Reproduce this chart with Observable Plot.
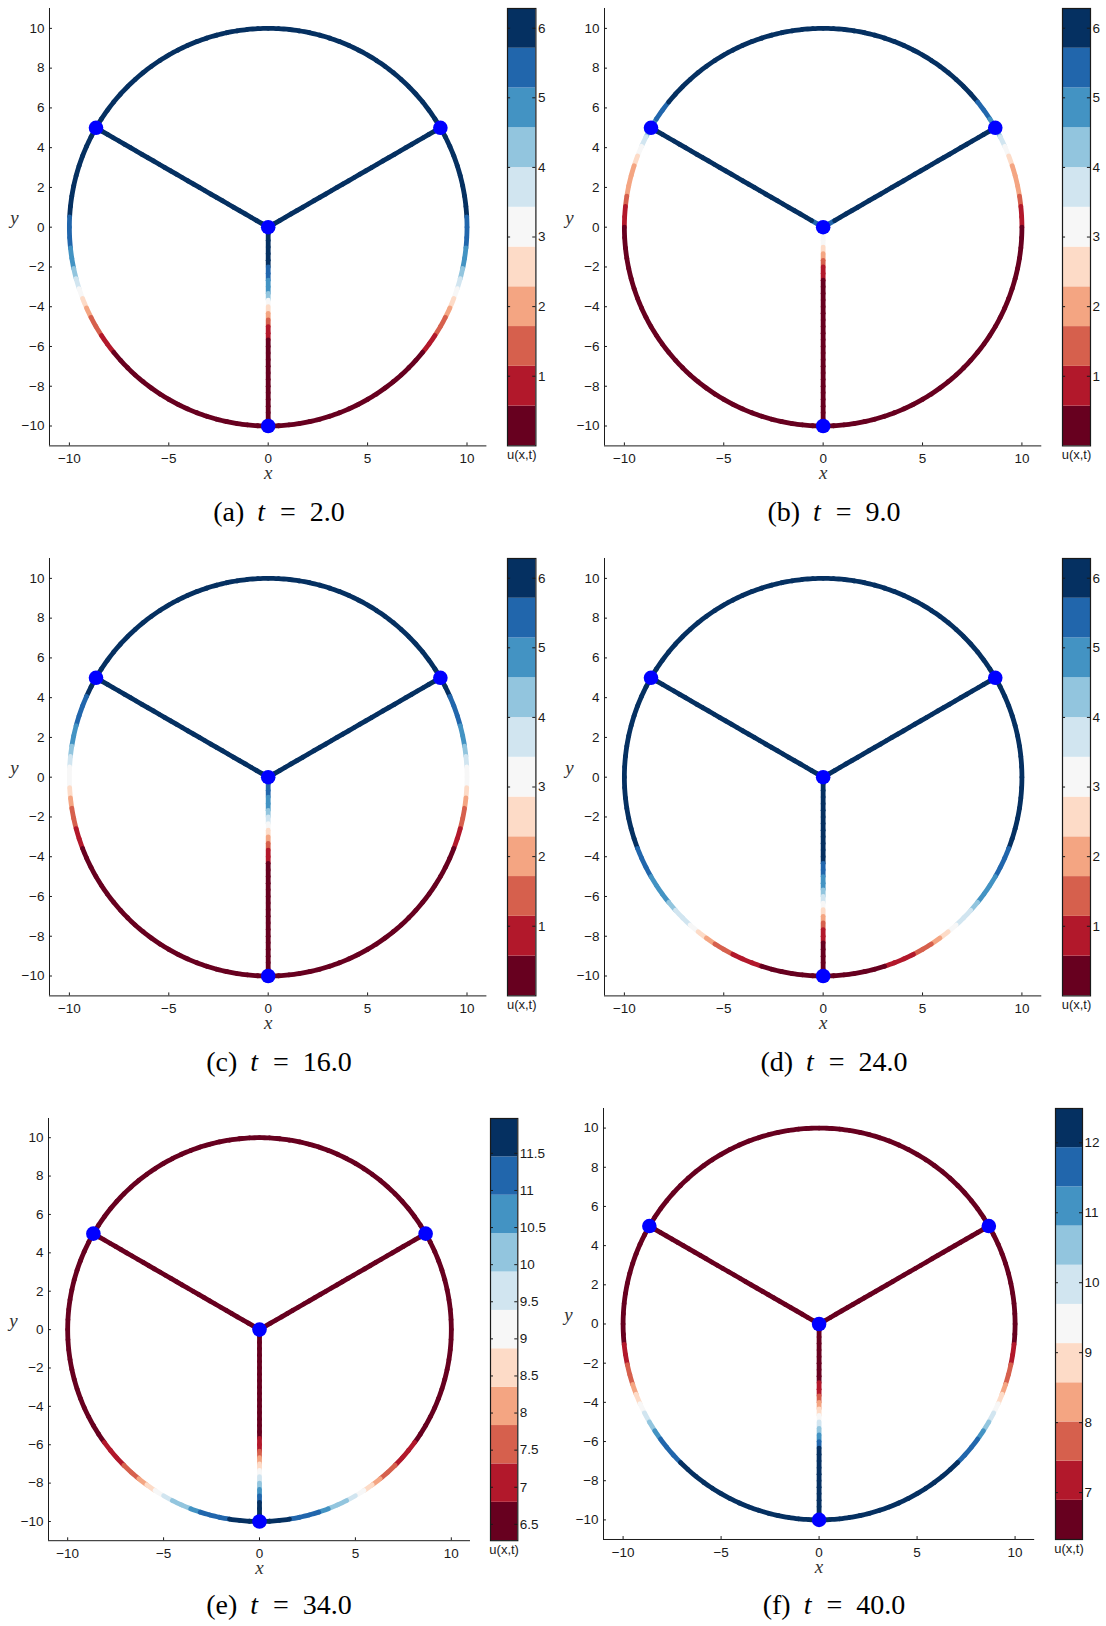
<!DOCTYPE html>
<html>
<head>
<meta charset="utf-8">
<script src="https://cdn.jsdelivr.net/npm/d3@7"></script>
<script src="https://cdn.jsdelivr.net/npm/@observablehq/plot@0.6"></script>
<style>
html, body { margin: 0; padding: 0; background: #fff; }
#root { position: relative; width: 1106px; height: 1626px; overflow: hidden; background: #fff; }
.fig { position: absolute; }
.cap { position: absolute; font-family: "Liberation Serif", "Times New Roman", serif; font-size: 28px; line-height: 28px; white-space: nowrap; transform: translateX(-50%); color: #000; }
.cap i { font-style: italic; }
</style>
</head>
<body>
<div id="root"></div>
<script>
// ---------- data ----------
const panelLabels = ["(a)", "(b)", "(c)", "(d)", "(e)", "(f)"];
const timeLabels = ["2.0", "9.0", "16.0", "24.0", "34.0", "40.0"];
const colorDomains = [[0, 6.283], [0, 6.283], [0, 6.283], [0, 6.283], [6.28, 11.97], [6.33, 12.49]];
const colorbarTicks = [
  [1, 2, 3, 4, 5, 6], [1, 2, 3, 4, 5, 6], [1, 2, 3, 4, 5, 6], [1, 2, 3, 4, 5, 6],
  [6.5, 7, 7.5, 8, 8.5, 9, 9.5, 10, 10.5, 11, 11.5],
  [7, 8, 9, 10, 11, 12]
];
const xTicks = [-10, -5, 0, 5, 10];
const yTicks = [-10, -8, -6, -4, -2, 0, 2, 4, 6, 8, 10];
const rdbu11 = ["#67001f", "#b2182b", "#d6604d", "#f4a582", "#fddbc7", "#f7f7f7", "#d1e5f0", "#92c5de", "#4393c3", "#2166ac", "#053061"];
const circleRadius = 10;
const nodes = [
  {id: "C", x: 0, y: 0},
  {id: "L", x: -8.66, y: 5},
  {id: "R", x: 8.66, y: 5},
  {id: "B", x: 0, y: -10}
];

// u(x,t) read along each edge (top arc: L->R, side arcs: upper node -> B, spokes: C -> node)
const topArc_a = [5.95,5.98,6.0,6.03,6.06,6.08,6.1,6.12,6.14,6.16,6.18,6.2,6.21,6.22,6.23,6.24,6.25,6.25,6.26,6.26,6.26,6.26,6.25,6.25,6.24,6.23,6.22,6.21,6.2,6.18,6.16,6.14,6.12,6.1,6.08,6.06,6.03,6.0,5.98,5.95];
const sideArc_a = [6.05,6.0,5.98,5.96,5.94,5.92,5.9,5.86,5.8,5.6,5.4,5.2,4.9,4.6,4.2,3.7,3.1,2.6,2.0,1.6,1.2,0.9,0.6,0.45,0.35,0.3,0.25,0.2,0.17,0.14,0.12,0.1,0.08,0.06,0.05,0.04,0.03,0.02,0.02,0.01];
const spokeUp_a = [6.2,6.2,6.19,6.18,6.17,6.16,6.15,6.14,6.13,6.12,6.11,6.1,6.09,6.08,6.07,6.06,6.05,6.04,6.03,6.02,6.01,6.0,5.99,5.98,5.97,5.96,5.95,5.94,5.93,5.92];
const spokeDown_a = [6.2,6.1,6.0,6.0,5.9,5.8,5.5,5.3,4.9,4.6,4.2,3.3,2.6,2.0,1.4,0.9,0.7,0.5,0.4,0.35,0.3,0.25,0.2,0.17,0.14,0.11,0.08,0.05,0.03,0.01];

const topArc_b = [4.9,5.4,5.6,5.8,5.9,6.0,6.05,6.1,6.12,6.14,6.16,6.18,6.2,6.21,6.22,6.23,6.24,6.25,6.25,6.25,6.25,6.25,6.25,6.24,6.23,6.22,6.21,6.2,6.18,6.16,6.14,6.12,6.1,6.05,6.0,5.9,5.8,5.6,5.4,4.9];
const sideArc_b = [4.4,3.9,3.2,2.6,2.2,2.0,1.8,1.3,0.9,0.65,0.5,0.45,0.42,0.4,0.38,0.36,0.34,0.32,0.3,0.28,0.26,0.24,0.22,0.2,0.18,0.16,0.14,0.12,0.1,0.09,0.08,0.07,0.06,0.05,0.04,0.03,0.03,0.02,0.02,0.01];
const spokeUp_b = [5.0,5.5,5.8,5.9,6.0,6.05,6.1,6.12,6.14,6.16,6.18,6.2,6.2,6.21,6.21,6.22,6.22,6.22,6.23,6.23,6.23,6.23,6.23,6.22,6.22,6.21,6.2,6.18,6.15,6.1];
const spokeDown_b = [3.9,3.4,3.0,2.6,2.1,1.5,1.0,0.7,0.5,0.45,0.42,0.4,0.38,0.36,0.34,0.32,0.3,0.28,0.26,0.24,0.22,0.2,0.18,0.16,0.14,0.12,0.1,0.08,0.05,0.02];

const topArc_c = [5.9,5.95,6.0,6.03,6.06,6.08,6.1,6.12,6.14,6.16,6.18,6.2,6.21,6.22,6.23,6.24,6.25,6.25,6.26,6.26,6.26,6.26,6.25,6.25,6.24,6.23,6.22,6.21,6.2,6.18,6.16,6.14,6.12,6.1,6.08,6.06,6.03,6.0,5.95,5.9];
const sideArc_c = [6.0,5.8,5.6,5.5,5.3,5.0,4.8,4.4,3.8,3.4,3.0,2.5,2.0,1.5,1.2,0.9,0.6,0.45,0.4,0.36,0.33,0.3,0.27,0.24,0.22,0.2,0.18,0.16,0.14,0.12,0.1,0.09,0.08,0.07,0.06,0.05,0.04,0.03,0.02,0.01];
const spokeUp_c = [6.0,6.05,6.1,6.12,6.14,6.16,6.18,6.2,6.2,6.21,6.21,6.22,6.22,6.22,6.23,6.23,6.23,6.23,6.22,6.22,6.21,6.2,6.19,6.17,6.15,6.12,6.09,6.05,6.0,5.95];
const spokeDown_c = [5.9,5.6,5.3,5.0,4.6,4.3,3.8,3.2,2.6,2.0,1.4,1.0,0.7,0.5,0.45,0.4,0.36,0.33,0.3,0.27,0.24,0.21,0.18,0.15,0.12,0.1,0.08,0.06,0.04,0.02];

const topArc_d = [6.1,6.12,6.14,6.16,6.18,6.2,6.21,6.22,6.23,6.24,6.25,6.25,6.26,6.26,6.27,6.27,6.27,6.28,6.28,6.28,6.28,6.28,6.28,6.27,6.27,6.27,6.26,6.26,6.25,6.25,6.24,6.23,6.22,6.21,6.2,6.18,6.16,6.14,6.12,6.1];
const sideArc_d = [6.2,6.2,6.19,6.18,6.17,6.16,6.15,6.13,6.11,6.09,6.07,6.05,6.02,5.99,5.95,5.9,5.8,5.6,5.4,5.2,5.0,4.8,4.6,4.3,3.9,3.5,3.1,2.6,2.1,1.7,1.3,1.0,0.8,0.6,0.5,0.4,0.35,0.3,0.28,0.25];
const spokeUp_d = [6.2,6.2,6.21,6.21,6.22,6.22,6.22,6.23,6.23,6.23,6.23,6.23,6.23,6.23,6.22,6.22,6.22,6.21,6.21,6.2,6.2,6.19,6.19,6.18,6.17,6.16,6.15,6.14,6.13,6.12];
const spokeDown_d = [6.2,6.2,6.15,6.1,6.1,6.05,6.0,6.0,5.95,5.9,5.85,5.8,5.75,5.6,5.4,5.0,4.7,4.3,3.9,3.3,2.6,2.0,1.4,1.0,0.8,0.5,0.4,0.35,0.3,0.28];

const topArc_e = [6.42,6.41,6.4,6.39,6.38,6.37,6.36,6.35,6.34,6.33,6.32,6.32,6.31,6.31,6.3,6.3,6.3,6.29,6.29,6.29,6.29,6.29,6.29,6.3,6.3,6.3,6.31,6.31,6.32,6.32,6.33,6.34,6.35,6.36,6.37,6.38,6.39,6.4,6.41,6.42];
const sideArc_e = [6.42,6.43,6.44,6.45,6.46,6.47,6.48,6.49,6.5,6.51,6.52,6.54,6.56,6.58,6.6,6.62,6.64,6.66,6.68,6.71,6.74,6.78,6.85,7.0,7.2,7.5,7.7,8.1,8.6,9.1,9.6,10.1,10.4,10.7,11.0,11.2,11.4,11.6,11.75,11.85];
const spokeUp_e = [6.4,6.4,6.4,6.41,6.41,6.41,6.41,6.42,6.42,6.42,6.42,6.42,6.42,6.42,6.42,6.42,6.42,6.42,6.42,6.42,6.42,6.42,6.42,6.42,6.42,6.42,6.42,6.42,6.42,6.42];
const spokeDown_e = [6.42,6.43,6.44,6.45,6.46,6.47,6.48,6.5,6.52,6.54,6.56,6.58,6.6,6.63,6.66,6.7,6.75,6.9,7.1,7.4,7.9,8.5,9.1,9.7,10.2,10.7,11.2,11.6,11.8,11.9];

const topArc_f = [6.4,6.39,6.39,6.38,6.38,6.37,6.37,6.36,6.36,6.36,6.35,6.35,6.35,6.35,6.35,6.34,6.34,6.34,6.34,6.34,6.34,6.34,6.34,6.34,6.34,6.35,6.35,6.35,6.35,6.35,6.36,6.36,6.36,6.37,6.37,6.38,6.38,6.39,6.39,6.4];
const sideArc_f = [6.4,6.4,6.42,6.44,6.46,6.48,6.5,6.53,6.57,6.62,6.7,6.8,7.0,7.3,7.6,7.9,8.3,8.8,9.4,9.9,10.5,11.0,11.5,11.7,11.9,12.0,12.05,12.1,12.15,12.2,12.25,12.3,12.33,12.36,12.39,12.41,12.43,12.45,12.46,12.47];
const spokeUp_f = [6.4,6.4,6.4,6.4,6.4,6.4,6.4,6.4,6.4,6.4,6.4,6.4,6.4,6.4,6.4,6.4,6.4,6.4,6.4,6.4,6.4,6.4,6.4,6.4,6.4,6.4,6.4,6.4,6.4,6.4];
const spokeDown_f = [6.4,6.42,6.45,6.48,6.52,6.56,6.6,6.7,6.8,7.1,7.4,7.8,8.4,9.0,9.5,10.1,10.6,11.1,11.6,12.0,12.1,12.15,12.2,12.25,12.3,12.35,12.4,12.43,12.46,12.48];

const panelValues = [
  {top: topArc_a, side: sideArc_a, up: spokeUp_a, down: spokeDown_a},
  {top: topArc_b, side: sideArc_b, up: spokeUp_b, down: spokeDown_b},
  {top: topArc_c, side: sideArc_c, up: spokeUp_c, down: spokeDown_c},
  {top: topArc_d, side: sideArc_d, up: spokeUp_d, down: spokeDown_d},
  {top: topArc_e, side: sideArc_e, up: spokeUp_e, down: spokeDown_e},
  {top: topArc_f, side: sideArc_f, up: spokeUp_f, down: spokeDown_f}
];

// ---------- layout (page pixels) ----------
const layout = [
  {px0: 49.3, px1: 486.7, py0: 8.3, py1: 445.7, cb0: 507.3, cb1: 535.7, capX: 279, capY: 521},
  {px0: 604.0, px1: 1041.3, py0: 8.3, py1: 445.7, cb0: 1062, cb1: 1090, capX: 834, capY: 521},
  {px0: 49.3, px1: 486.7, py0: 558.3, py1: 995.7, cb0: 507.3, cb1: 535.7, capX: 279, capY: 1071},
  {px0: 604.0, px1: 1041.3, py0: 558.3, py1: 995.7, cb0: 1062, cb1: 1090, capX: 834, capY: 1071},
  {px0: 48.3, px1: 470.3, py0: 1117.5, py1: 1539.7, cb0: 490, cb1: 517.3, capX: 279, capY: 1614.5},
  {px0: 603.4, px1: 1034.6, py0: 1108, py1: 1539, cb0: 1054.7, cb1: 1081.7, capX: 834, capY: 1614.5}
];

const deg = Math.PI / 180;
const byId = Object.fromEntries(nodes.map(n => [n.id, n]));
const ang = n => Math.atan2(n.y, n.x) / deg;
const fmt = d => (d < 0 ? "\u2212" + Math.abs(d) : String(d));
const tickFont = 13.5;

function edgePoints(vals, id, geom) {
  const N = vals.length, out = [];
  const M = geom.arc ? 4 : 1;
  for (let i = 0; i < N; i++) {
    for (let k = 0; k <= M; k++) {
      const s = (i + k / M) / N;
      let x, y;
      if (geom.arc) {
        const t = (geom.a0 + (geom.a1 - geom.a0) * s) * deg;
        x = circleRadius * Math.cos(t); y = circleRadius * Math.sin(t);
      } else {
        x = geom.p.x + (geom.q.x - geom.p.x) * s;
        y = geom.p.y + (geom.q.y - geom.p.y) * s;
      }
      out.push({x, y, seg: id + "-" + i, u: vals[i]});
    }
  }
  return out;
}

function panelPoints(v) {
  const C = byId.C, L = byId.L, R = byId.R, B = byId.B;
  return [
    ...edgePoints(v.top, "top", {arc: true, a0: ang(L), a1: ang(R)}),
    ...edgePoints(v.side, "left", {arc: true, a0: ang(L), a1: ang(B) + 360}),
    ...edgePoints(v.side, "right", {arc: true, a0: ang(R), a1: ang(B)}),
    ...edgePoints(v.up, "cl", {p: C, q: L}),
    ...edgePoints(v.up, "cr", {p: C, q: R}),
    ...edgePoints(v.down, "cb", {p: C, q: B})
  ];
}

const root = document.getElementById("root");
const axisColor = "#1a1a1a";
const sansFont = "'Liberation Sans', Arial, Helvetica, sans-serif";
const serifFont = "'Liberation Serif', 'Times New Roman', serif";

panelLabels.forEach((lab, p) => {
  const L = layout[p];
  const [lo, hi] = colorDomains[p];
  const thresholds = d3.range(1, 11).map(i => lo + (hi - lo) * i / 11);
  const colorOpt = {type: "threshold", domain: thresholds, range: rdbu11};
  const mL = 49, mT = 8, mR = 6, mB = 42;

  const main = Plot.plot({
    width: L.px1 - L.px0 + mL + mR,
    height: L.py1 - L.py0 + mT + mB,
    marginLeft: mL, marginRight: mR, marginTop: mT, marginBottom: mB,
    style: {background: "transparent", fontFamily: sansFont, color: axisColor, overflow: "visible"},
    x: {domain: [-11, 11]},
    y: {domain: [-11, 11]},
    color: colorOpt,
    marks: [
      Plot.axisX(xTicks, {tickSize: 0, tickPadding: 8, label: null, tickFormat: fmt, fontSize: tickFont, fontFamily: sansFont}),
      Plot.axisY(yTicks, {tickSize: 0, tickPadding: 5, label: null, tickFormat: fmt, fontSize: tickFont, fontFamily: sansFont}),
      Plot.ruleX([-11], {stroke: axisColor, strokeWidth: 1}),
      Plot.ruleY([-11], {stroke: axisColor, strokeWidth: 1}),
      Plot.ruleX(xTicks, {x: d => d, y1: -11, y2: -10.85, stroke: axisColor}),
      Plot.ruleY(yTicks, {y: d => d, x1: -11, x2: -10.85, stroke: axisColor}),
      Plot.line(panelPoints(panelValues[p]), {x: "x", y: "y", z: "seg", stroke: "u", strokeWidth: 4.8, strokeLinecap: "round", strokeLinejoin: "round"}),
      Plot.dot(nodes, {x: "x", y: "y", r: 7.3, fill: "#0000ff", stroke: "none"}),
      Plot.text(["x"], {x: 0, y: -11, dy: 27, text: d => d, fontFamily: serifFont, fontStyle: "italic", fontSize: 19, fill: "#333"}),
      Plot.text(["y"], {x: -11, y: 0, dx: -35, dy: -9, text: d => d, fontFamily: serifFont, fontStyle: "italic", fontSize: 19, fill: "#333"})
    ]
  });
  main.classList.add("fig");
  main.style.left = (L.px0 - mL) + "px";
  main.style.top = (L.py0 - mT) + "px";
  root.appendChild(main);

  const bands = d3.range(11).map(i => ({y1: lo + (hi - lo) * i / 11, y2: lo + (hi - lo) * (i + 1) / 11, mid: lo + (hi - lo) * (i + 0.5) / 11}));
  const cbL = 1, cbR = 34, cbB = 30;
  const cb = Plot.plot({
    width: L.cb1 - L.cb0 + cbL + cbR,
    height: L.py1 - L.py0 + mT + cbB,
    marginLeft: cbL, marginRight: cbR, marginTop: mT, marginBottom: cbB,
    style: {background: "transparent", fontFamily: sansFont, color: axisColor, overflow: "visible"},
    x: {domain: [0, 1], axis: null},
    y: {domain: [lo, hi]},
    color: colorOpt,
    marks: [
      Plot.rect(bands, {x1: 0, x2: 1, y1: "y1", y2: "y2", fill: "mid"}),
      Plot.ruleY(colorbarTicks[p], {y: d => d, x1: 0, x2: 0.11, stroke: axisColor}),
      Plot.ruleY(colorbarTicks[p], {y: d => d, x1: 0.89, x2: 1, stroke: axisColor}),
      Plot.frame({stroke: axisColor, strokeWidth: 1.2}),
      Plot.axisY(colorbarTicks[p], {anchor: "right", tickSize: 0, tickPadding: 2, label: null, tickFormat: d => String(d), fontSize: tickFont, fontFamily: sansFont}),
      Plot.text(["u(x,t)"], {frameAnchor: "bottom", dy: 13, text: d => d, fill: axisColor, fontSize: 13, fontFamily: sansFont})
    ]
  });
  cb.classList.add("fig");
  cb.style.left = (L.cb0 - cbL) + "px";
  cb.style.top = (L.py0 - mT) + "px";
  root.appendChild(cb);

  const cap = document.createElement("div");
  cap.className = "cap";
  cap.style.left = L.capX + "px";
  cap.style.top = (L.capY - 23.5) + "px";
  cap.innerHTML = `<span>${lab}</span><span style="margin-left:13px"><i>t</i></span><span style="margin-left:15px">=</span><span style="margin-left:14px">${timeLabels[p]}</span>`;
  root.appendChild(cap);
});
</script>
</body>
</html>
